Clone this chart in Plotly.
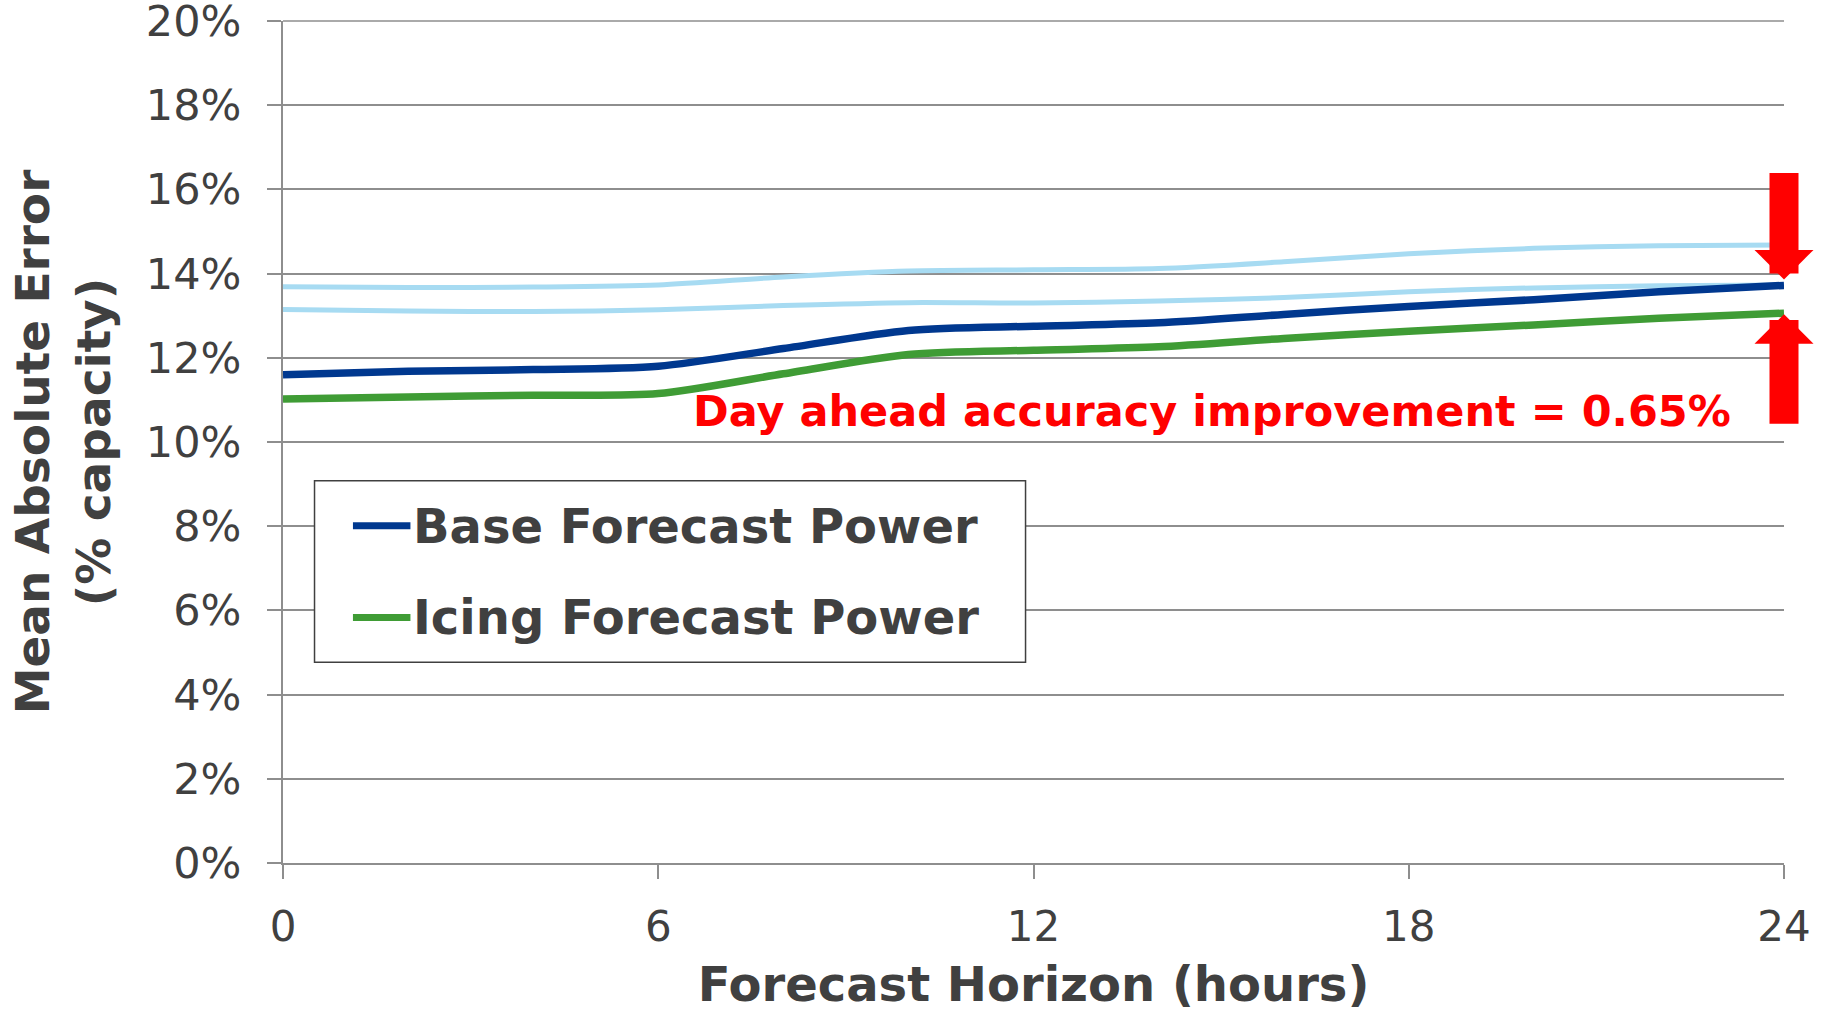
import plotly.graph_objects as go

hours = [0, 2, 4, 6, 8, 10, 12, 14, 16, 18, 20, 22, 24]
base_forecast = [11.60, 11.68, 11.72, 11.80, 12.22, 12.65, 12.75, 12.83, 13.03, 13.22, 13.38, 13.57, 13.72]
icing_forecast = [11.02, 11.07, 11.11, 11.15, 11.62, 12.08, 12.18, 12.26, 12.46, 12.63, 12.78, 12.94, 13.06]
ref_upper = [13.69, 13.67, 13.68, 13.73, 13.92, 14.06, 14.09, 14.12, 14.28, 14.47, 14.60, 14.66, 14.68]
ref_lower = [13.15, 13.11, 13.10, 13.14, 13.24, 13.31, 13.30, 13.35, 13.43, 13.57, 13.66, 13.71, 13.73]

x_ticks = [0, 6, 12, 18, 24]
y_ticks = [0, 2, 4, 6, 8, 10, 12, 14, 16, 18, 20]
series_names = ["Base Forecast Power", "Icing Forecast Power"]
annotation_text = "Day ahead accuracy improvement = 0.65%"

C_BASE = "#00388F"
C_ICING = "#3F9C35"
C_LIGHT = "#A7DBF2"
C_TEXT = "#404040"
C_GRID = "#8E8E8E"
FONT = "DejaVu Sans"

fig = go.Figure()
for ys in (ref_upper, ref_lower):
    fig.add_trace(go.Scatter(x=hours, y=ys, mode="lines", showlegend=False,
                             line=dict(color=C_LIGHT, width=5, shape="spline", smoothing=0.8),
                             hoverinfo="skip"))
fig.add_trace(go.Scatter(x=hours, y=base_forecast, mode="lines", name=series_names[0], showlegend=False,
                         line=dict(color=C_BASE, width=7.5, shape="spline", smoothing=0.8)))
fig.add_trace(go.Scatter(x=hours, y=icing_forecast, mode="lines", name=series_names[1], showlegend=False,
                         line=dict(color=C_ICING, width=7.5, shape="spline", smoothing=0.8)))

shapes = [
    # top gridline (at the 20% tick, on the plot edge)
    dict(type="line", xref="paper", yref="paper", x0=0, x1=1, y0=1, y1=1,
         line=dict(color=C_GRID, width=1.5), layer="below"),
    # custom legend box
    dict(type="rect", xref="paper", yref="paper", x0=0.0210, x1=0.4947, y0=0.2384, y1=0.4540,
         line=dict(color=C_TEXT, width=1.5), fillcolor="white", layer="above"),
    dict(type="line", xref="paper", yref="paper", x0=0.0466, x1=0.0849, y0=0.4005, y1=0.4005,
         line=dict(color=C_BASE, width=7), layer="above"),
    dict(type="line", xref="paper", yref="paper", x0=0.0466, x1=0.0849, y0=0.2916, y1=0.2916,
         line=dict(color=C_ICING, width=7), layer="above"),
]

annotations = [
    dict(xref="paper", yref="paper", x=0.0856, y=0.4005, xanchor="left", yanchor="middle",
         text=series_names[0], showarrow=False,
         font=dict(family=FONT, size=48, color=C_TEXT, weight="bold")),
    dict(xref="paper", yref="paper", x=0.0856, y=0.2916, xanchor="left", yanchor="middle",
         text=series_names[1], showarrow=False,
         font=dict(family=FONT, size=48, color=C_TEXT, weight="bold")),
    dict(xref="paper", yref="paper", x=0.6186, y=0.5368, xanchor="center", yanchor="middle",
         text=annotation_text, showarrow=False,
         font=dict(family=FONT, size=43, color="#FF0000", weight="bold")),
    # down arrow onto base forecast end
    dict(xref="x", yref="y", x=hours[-1], y=base_forecast[-1], text="", showarrow=True,
         ax=0, ay=-114, arrowhead=1, arrowwidth=29, arrowsize=0.339, arrowcolor="#FF0000",
         standoff=6, font=dict(size=1)),
    # up arrow onto icing forecast end
    dict(xref="x", yref="y", x=hours[-1], y=icing_forecast[-1], text="", showarrow=True,
         ax=0, ay=112, arrowhead=1, arrowwidth=29, arrowsize=0.339, arrowcolor="#FF0000",
         standoff=1, font=dict(size=1)),
]

fig.update_layout(
    width=1831, height=1012,
    margin=dict(l=283, r=47, t=21, b=149),
    paper_bgcolor="white", plot_bgcolor="white",
    showlegend=False,
    shapes=shapes, annotations=annotations,
    font=dict(family=FONT, color=C_TEXT),
)
fig.update_xaxes(
    range=[0, 24], tickvals=x_ticks, ticktext=[str(v) for v in x_ticks],
    showgrid=False, zeroline=False, showline=True, linecolor=C_GRID, linewidth=2,
    ticks="outside", ticklen=14, tickwidth=2, tickcolor=C_GRID,
    ticklabelstandoff=12, ticklabeloverflow="allow", automargin=False,
    tickfont=dict(family=FONT, size=42, color=C_TEXT),
    title=dict(text="Forecast Horizon (hours)", standoff=17,
               font=dict(family=FONT, size=48, color=C_TEXT, weight="bold")),
)
fig.update_yaxes(
    range=[0, 20], tickvals=y_ticks, ticktext=[f"{v}%" for v in y_ticks],
    showgrid=True, gridcolor=C_GRID, gridwidth=1.5, zeroline=False,
    showline=True, linecolor=C_GRID, linewidth=2,
    ticks="outside", ticklen=14, tickwidth=2, tickcolor=C_GRID,
    ticklabelstandoff=17, ticklabeloverflow="allow", automargin=False,
    tickfont=dict(family=FONT, size=43, color=C_TEXT),
    title=dict(text="Mean Absolute Error<br>(% capacity)", standoff=20,
               font=dict(family=FONT, size=47, color=C_TEXT, weight="bold")),
)

fig.write_html("out.html")
